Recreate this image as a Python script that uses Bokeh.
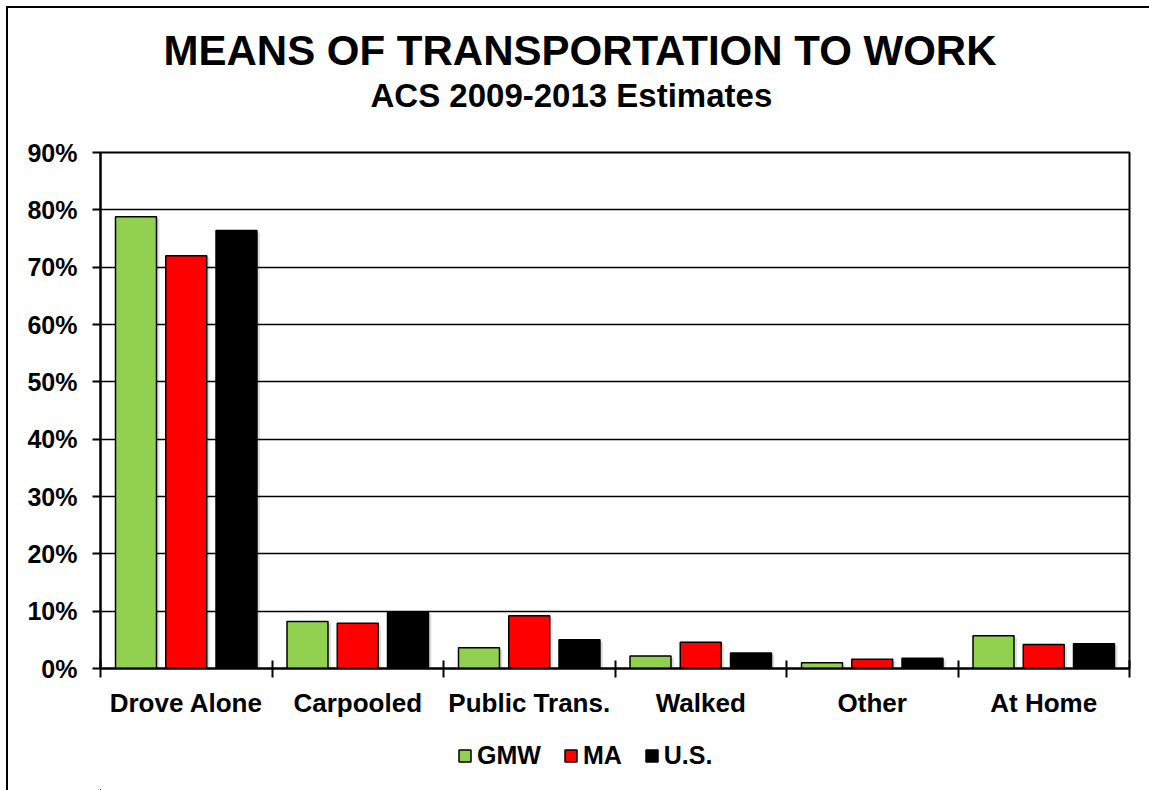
from bokeh.plotting import figure
from bokeh.layouts import column
from bokeh.models import (ColumnDataSource, FixedTicker, PrintfTickFormatter, Title,
                          Legend, LegendItem, Range1d)
from bokeh.transform import dodge
from bokeh.embed import file_html
from bokeh.resources import INLINE

# ---- data ----
categories = ["Drove Alone", "Carpooled", "Public Trans.", "Walked", "Other", "At Home"]
gmw = [78.8, 8.2, 3.6, 2.2, 1.0, 5.7]
ma = [72.0, 7.9, 9.2, 4.6, 1.6, 4.2]
us = [76.4, 9.9, 5.0, 2.7, 1.8, 4.3]
series_names = ["GMW", "MA", "U.S."]
series_colors = ["#92D050", "#FF0000", "#000000"]
y_ticks = [0, 10, 20, 30, 40, 50, 60, 70, 80, 90]
title_text = "MEANS OF TRANSPORTATION TO WORK"
subtitle_text = "ACS 2009-2013 Estimates"

FONT = "Liberation Sans"
n = len(categories)
centers = [i + 0.5 for i in range(n)]
cols = ["gmw", "ma", "us"]
data = dict(x=centers, gmw=gmw, ma=ma, us=us)
# soft drop-shadow tops, slightly below each bar top
for c in cols:
    data[c + "_sh"] = [max(v - 0.35, 0) for v in data[c]]
src = ColumnDataSource(data)

p = figure(width=1149, height=728, output_backend="svg", toolbar_location=None,
           x_range=Range1d(0, n), y_range=Range1d(0, 90),
           min_border_left=100, min_border_right=20, min_border_top=152, min_border_bottom=60)
p.border_fill_color = None
p.outline_line_color = "black"
p.outline_line_width = 2
p.background_fill_color = "white"

offsets = [-0.293, 0.0, 0.293]
for col, off in zip(cols, offsets):
    p.vbar(x=dodge("x", off + 0.017, range=p.x_range), top=col + "_sh", width=0.239, source=src,
           fill_color="#000000", fill_alpha=0.13, line_color=None)
for col, off, color in zip(cols, offsets, series_colors):
    p.vbar(x=dodge("x", off, range=p.x_range), top=col, width=0.239, source=src,
           fill_color=color, line_color="black", line_width=1.5)

# y axis
p.yaxis.ticker = FixedTicker(ticks=y_ticks)
p.yaxis.formatter = PrintfTickFormatter(format="%d%%")
p.yaxis.major_label_text_font = FONT
p.yaxis.major_label_text_font_style = "bold"
p.yaxis.major_label_text_font_size = "25px"
p.yaxis.major_label_text_color = "black"
p.yaxis.major_tick_out = 8
p.yaxis.major_tick_in = 0
p.yaxis.major_tick_line_width = 2
p.yaxis.major_tick_line_color = "black"
p.yaxis.minor_tick_line_color = None
p.yaxis.axis_line_width = 2
p.yaxis.axis_line_color = "black"
p.yaxis.major_label_standoff = 15

# x axis: labels at category centers, tick marks at category boundaries (minor ticks)
p.xaxis.ticker = FixedTicker(ticks=centers, minor_ticks=list(range(n + 1)))
p.xaxis.major_label_overrides = {c: lab for c, lab in zip(centers, categories)}
p.xaxis.major_tick_line_color = None
p.xaxis.minor_tick_in = 8
p.xaxis.minor_tick_out = 9
p.xaxis.minor_tick_line_width = 2
p.xaxis.minor_tick_line_color = "black"
p.xaxis.major_label_text_font = FONT
p.xaxis.major_label_text_font_style = "bold"
p.xaxis.major_label_text_font_size = "26px"
p.xaxis.major_label_text_color = "black"
p.xaxis.axis_line_width = 2
p.xaxis.axis_line_color = "black"
p.xaxis.major_label_standoff = 10

p.xgrid.grid_line_color = None
p.ygrid.ticker = FixedTicker(ticks=y_ticks)
p.ygrid.grid_line_color = "black"
p.ygrid.grid_line_width = 1.5

# titles (first added sits nearest the plot): spacer, subtitle, main title
p.add_layout(Title(text=" ", text_font=FONT, text_font_size="33px", standoff=0), "above")
p.add_layout(Title(text=subtitle_text, align="left", offset=270, text_font=FONT,
                   text_font_style="bold", text_font_size="33px", text_color="black",
                   standoff=0), "above")
p.add_layout(Title(text=title_text, align="left", offset=63, text_font=FONT,
                   text_font_style="bold", text_font_size="42px", text_color="black",
                   standoff=2), "above")

# legend strip: a small figure whose bars lie outside its view, holding only the legend
lg = figure(width=1149, height=62, output_backend="svg", toolbar_location=None,
            x_axis_location=None, y_axis_location=None,
            x_range=Range1d(20, 30), y_range=Range1d(200, 210),
            min_border_left=0, min_border_right=0, min_border_top=0, min_border_bottom=0)
lg.grid.visible = False
lg.outline_line_color = None
lg.background_fill_color = None
lg.border_fill_color = None
items = []
for nm, col, color in zip(series_names, cols, series_colors):
    r = lg.vbar(x="x", top=col, width=0.2, source=src,
                fill_color=color, line_color="black", line_width=1.5)
    items.append(LegendItem(label=nm, renderers=[r]))
legend = Legend(items=items, orientation="horizontal", location=(357, 20),
                glyph_width=15, glyph_height=15, label_standoff=5, spacing=22,
                padding=0, margin=0, border_line_color=None, background_fill_alpha=0,
                label_text_font=FONT, label_text_font_style="bold", label_text_font_size="25px",
                label_text_color="black")
lg.add_layout(legend, "center")

layout = column(p, lg, spacing=0,
                styles={"box-shadow": "inset 6px 6px 0 0 #ffffff, inset 8px 8px 0 0 #000000",
                        "background-color": "#ffffff"})

open("out.html", "w").write(file_html(layout, INLINE))
